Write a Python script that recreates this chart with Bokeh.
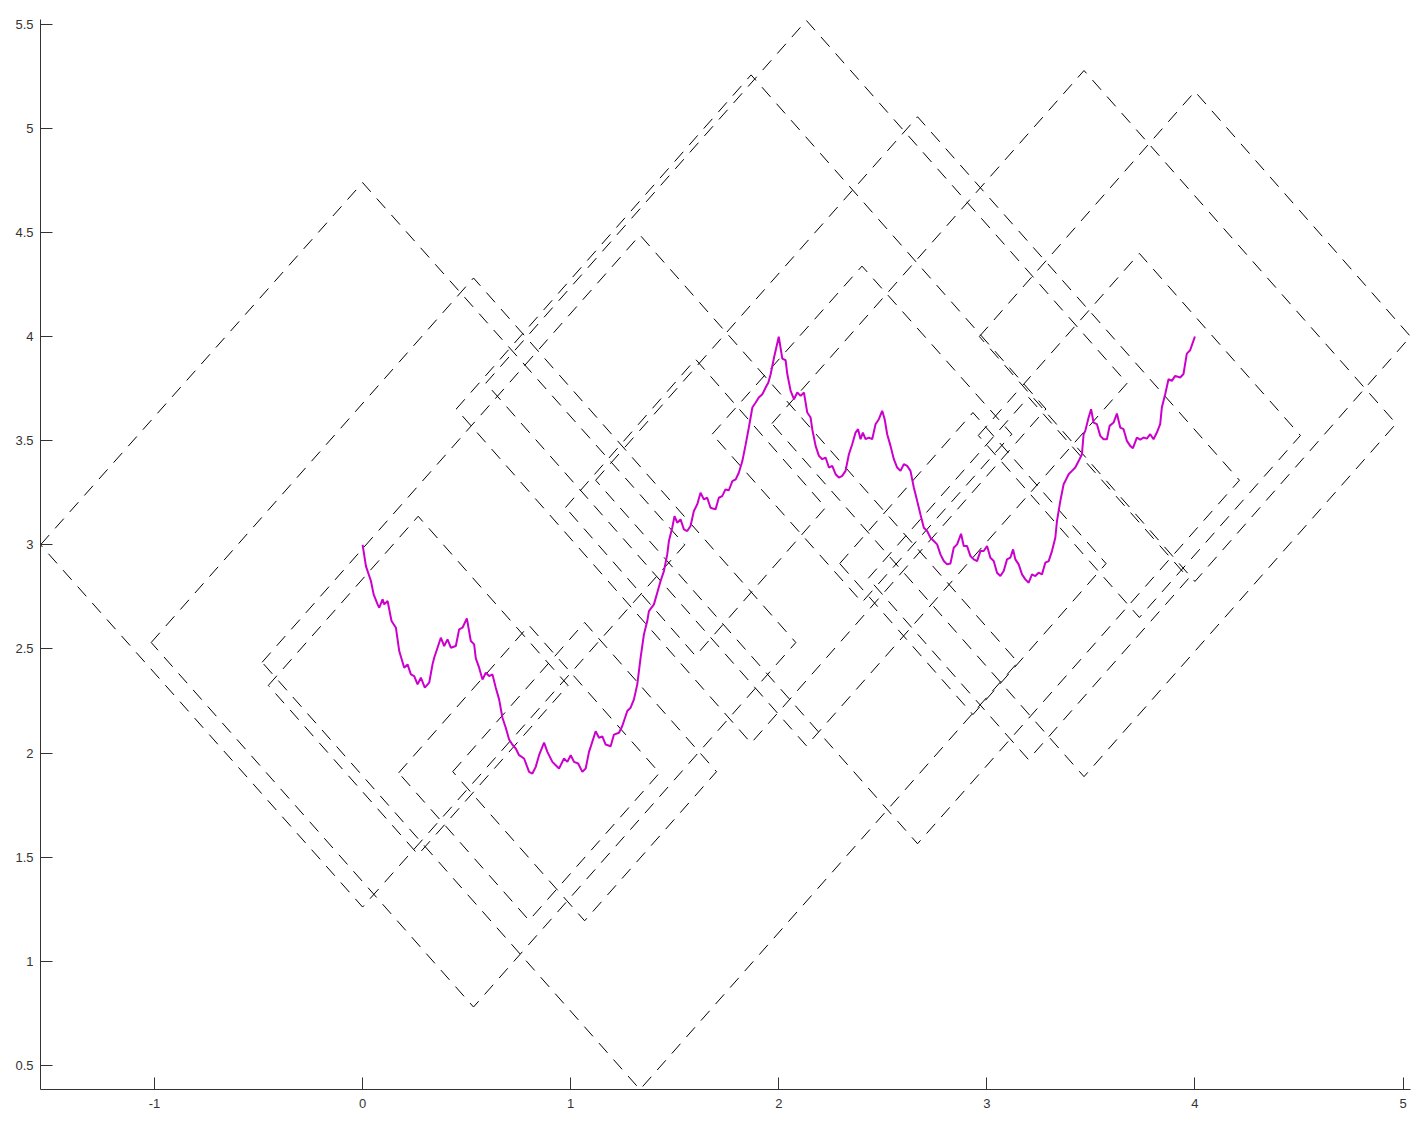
from bokeh.plotting import figure
from bokeh.models import Range1d, FixedTicker
from bokeh.embed import file_html
from bokeh.resources import INLINE

# ---- data ----
centers_x = [0.0, 0.267, 0.533, 0.8, 1.067, 1.333, 1.6, 1.867, 2.133, 2.4, 2.667, 2.933, 3.2, 3.467, 3.733, 4.0]
centers_y = [3.0, 2.325, 2.531, 1.905, 1.911, 2.436, 3.179, 3.652, 3.776, 3.531, 3.31, 2.91, 2.839, 3.582, 3.525, 4.0]
half_h = [1.739, 0.812, 1.750, 0.708, 0.716, 2.051, 0.712, 1.604, 1.741, 0.807, 1.745, 0.725, 0.870, 1.695, 0.874, 1.176]
half_w = [1.548, 0.72, 1.549, 0.627, 0.634, 1.816, 0.625, 1.417, 1.541, 0.72, 1.547, 0.64, 0.770, 1.50, 0.774, 1.036]

curve_x = [0.000,0.016,0.024,0.040,0.053,0.072,0.080,0.096,0.104,0.120,0.139,0.160,0.176,0.200,0.216,0.232,0.248,0.264,0.280,0.299,
           0.320,0.336,0.344,0.360,0.376,0.392,0.408,0.424,0.448,0.464,0.480,0.501,0.520,0.536,0.544,0.560,0.576,0.592,0.608,0.624,
           0.640,0.656,0.672,0.688,0.704,0.720,0.736,0.752,0.776,0.800,0.816,0.832,0.848,0.872,0.888,0.912,0.928,0.944,0.968,0.984,
           1.000,1.016,1.036,1.056,1.072,1.088,1.096,1.120,1.136,1.152,1.168,1.192,1.208,1.232,1.248,1.272,1.288,1.304,1.320,1.336,
           1.352,1.368,1.376,1.400,1.416,1.432,1.448,1.464,1.472,1.488,1.499,1.512,1.528,1.544,1.560,1.576,1.592,1.608,1.624,1.640,
           1.656,1.672,1.696,1.712,1.728,1.744,1.760,1.777,1.793,1.808,1.825,1.841,1.856,1.873,1.889,1.904,1.921,1.937,1.950,1.961,
           1.977,2.000,2.017,2.033,2.041,2.057,2.073,2.089,2.105,2.121,2.137,2.153,2.161,2.177,2.193,2.209,2.225,2.241,2.257,2.273,
           2.289,2.305,2.321,2.337,2.353,2.369,2.381,2.393,2.404,2.417,2.433,2.449,2.465,2.481,2.497,2.509,2.521,2.537,2.553,2.569,
           2.585,2.601,2.617,2.633,2.649,2.665,2.681,2.697,2.713,2.729,2.745,2.761,2.777,2.793,2.809,2.825,2.841,2.857,2.876,2.889,
           2.905,2.921,2.937,2.953,2.969,2.985,3.001,3.017,3.033,3.049,3.065,3.081,3.097,3.113,3.126,3.137,3.153,3.169,3.185,3.201,
           3.217,3.233,3.249,3.265,3.281,3.297,3.313,3.329,3.337,3.353,3.369,3.377,3.393,3.409,3.425,3.441,3.457,3.465,3.473,3.489,
           3.501,3.513,3.529,3.545,3.561,3.577,3.590,3.609,3.625,3.641,3.657,3.673,3.689,3.702,3.721,3.737,3.753,3.769,3.785,3.801,
           3.817,3.833,3.841,3.857,3.873,3.889,3.905,3.929,3.945,3.961,3.977,3.988,4.000]
curve_y = [3.000,2.898,2.874,2.826,2.762,2.714,2.698,2.738,2.714,2.730,2.634,2.602,2.490,2.410,2.426,2.378,2.370,2.330,2.362,2.314,
           2.338,2.426,2.458,2.506,2.554,2.514,2.546,2.506,2.514,2.594,2.602,2.647,2.538,2.522,2.455,2.410,2.353,2.386,2.370,2.378,
           2.314,2.258,2.170,2.122,2.065,2.040,2.022,1.990,1.974,1.910,1.902,1.934,1.990,2.050,2.006,1.958,1.942,1.926,1.974,1.958,
           1.990,1.958,1.950,1.910,1.926,2.006,2.030,2.105,2.074,2.080,2.041,2.033,2.089,2.098,2.130,2.202,2.218,2.258,2.330,2.458,
           2.570,2.634,2.682,2.714,2.770,2.826,2.874,2.954,3.018,3.082,3.138,3.106,3.122,3.074,3.066,3.090,3.162,3.194,3.250,3.218,
           3.226,3.178,3.170,3.226,3.234,3.266,3.262,3.306,3.314,3.346,3.402,3.482,3.562,3.659,3.683,3.707,3.723,3.755,3.779,3.819,
           3.898,3.999,3.894,3.886,3.820,3.739,3.699,3.731,3.715,3.731,3.635,3.611,3.555,3.475,3.427,3.411,3.419,3.371,3.379,3.339,
           3.323,3.331,3.355,3.435,3.483,3.539,3.555,3.507,3.539,3.507,3.515,3.507,3.579,3.603,3.643,3.603,3.531,3.475,3.411,3.371,
           3.355,3.387,3.379,3.355,3.275,3.211,3.146,3.082,3.066,3.034,3.018,3.002,2.954,2.922,2.906,2.910,2.986,3.002,3.053,2.994,
           2.994,2.946,2.930,2.922,2.970,2.970,2.994,2.938,2.922,2.866,2.850,2.874,2.930,2.938,2.978,2.930,2.906,2.858,2.834,2.818,
           2.858,2.850,2.866,2.858,2.914,2.922,2.970,3.034,3.114,3.210,3.291,3.306,3.339,3.355,3.371,3.402,3.435,3.531,3.547,3.611,
           3.651,3.587,3.579,3.523,3.507,3.507,3.571,3.587,3.630,3.563,3.555,3.499,3.475,3.464,3.515,3.505,3.515,3.510,3.531,3.507,
           3.539,3.579,3.659,3.723,3.795,3.787,3.811,3.803,3.820,3.918,3.934,3.966,4.000]

x_ticks = [-1, 0, 1, 2, 3, 4, 5]
y_ticks = [0.5, 1, 1.5, 2, 2.5, 3, 3.5, 4, 4.5, 5, 5.5]

# ---- figure ----
p = figure(width=1417, height=1114,
           x_range=Range1d(-1.548, 5.036), y_range=Range1d(0.385, 5.522),
           output_backend="svg", toolbar_location=None,
           min_border_left=40, min_border_right=7, min_border_top=19, min_border_bottom=25)
p.xgrid.visible = False
p.ygrid.visible = False
p.outline_line_color = None
p.background_fill_color = "white"
p.border_fill_color = "white"

for ax, ticks in ((p.xaxis[0], x_ticks), (p.yaxis[0], y_ticks)):
    ax.ticker = FixedTicker(ticks=ticks)
    ax.minor_tick_line_color = None
    ax.major_tick_in = 12
    ax.major_tick_out = 0
    ax.axis_line_color = "#333333"
    ax.major_tick_line_color = "#333333"
    ax.major_label_text_font = "Liberation Sans"
    ax.major_label_text_font_size = "13px"
    ax.major_label_text_color = "#333333"
    ax.major_label_standoff = 7
p.xaxis[0].major_label_standoff = 9
p.xaxis[0].major_label_overrides = {t: str(t) for t in x_ticks}
p.yaxis[0].major_label_overrides = {t: ("%g" % t) for t in y_ticks}

# diamonds
xs, ys = [], []
for cx, cy, hw, hh in zip(centers_x, centers_y, half_w, half_h):
    xs.append([cx - hw, cx, cx + hw, cx, cx - hw])
    ys.append([cy, cy + hh, cy, cy - hh, cy])
p.multi_line(xs, ys, line_color="black", line_width=1, line_dash="13 9")

# curve
p.line(curve_x, curve_y, line_color="#cc00cc", line_width=2)

open("out.html", "w").write(file_html(p, INLINE))
